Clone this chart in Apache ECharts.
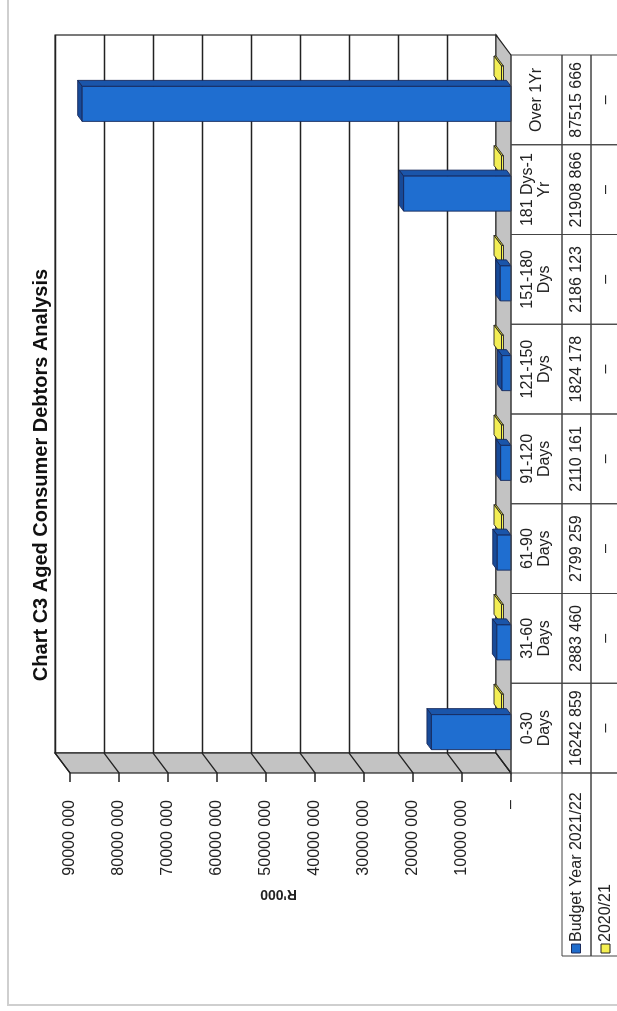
<!DOCTYPE html>
<html>
<head>
<meta charset="utf-8">
<script src="https://cdn.jsdelivr.net/npm/echarts@6/dist/echarts.min.js"></script>
<style>
  html, body { margin: 0; padding: 0; background: #fff; overflow: hidden; }
  #page { position: absolute; left: 0; top: 0; width: 617px; height: 1011px; overflow: hidden; }
  /* 图表整体逆时针旋转 90 度，和扫描件一致 */
  #chart { position: absolute; left: 0; top: 0; width: 1011px; height: 617px;
           transform-origin: 0 0; transform: translate(0, 1011px) rotate(-90deg); }
</style>
</head>
<body>
<div id="page"><div id="chart"></div></div>
<script>
// 数据
var categories = ['0-30\nDays', '31-60\nDays', '61-90\nDays', '91-120\nDays', '121-150\nDys', '151-180\nDys', '181 Dys-1\nYr', 'Over 1Yr'];
var budget = [16242859, 2883460, 2799259, 2110161, 1824178, 2186123, 21908866, 87515666];
var prior = [0, 0, 0, 0, 0, 0, 0, 0];
var seriesNames = ['Budget Year 2021/22', '2020/21'];
var ticks = [0, 10000000, 20000000, 30000000, 40000000, 50000000, 60000000, 70000000, 80000000, 90000000];

// 3D 深度偏移（前 -> 后）
var DEPTH_U = 20;
var DEPTH_V = -15;
var FRONT = { left: 238, right: 55, top: 70, bottom: 106 };
var TABLE_ROWS = [511, 562, 591, 625];
var FONT = 'Liberation Sans, Arial, sans-serif';

function fmt(v) {
  if (!v) return '–';
  var r = String(v % 1000);
  while (r.length < 3) r = '0' + r;
  return Math.floor(v / 1000) + ' ' + r;
}

(function () {
  var myChart = echarts.init(document.getElementById('chart'));

  // 画一个立体柱子
  function box(api, opt) {
    var i = api.value(0), val = api.value(1);
    var base = api.coord([i, 0]);
    var top = api.coord([i, val]);
    var bw = api.size([1, 0])[0];
    var w = bw * opt.width;
    var uL = base[0] - w / 2 + opt.shift, uR = uL + w;
    var vB = base[1], vT = Math.min(top[1], vB - 2);
    function P(u, v, z) { return [u + DEPTH_U * z, v + DEPTH_V * z]; }
    var z1 = opt.z1, z2 = opt.z2;
    var line = { stroke: opt.line, lineWidth: 0.9 };
    return {
      type: 'group',
      children: [
        { type: 'polygon', shape: { points: [P(uR, vT, z1), P(uR, vB, z1), P(uR, vB, z2), P(uR, vT, z2)] },
          style: Object.assign({ fill: opt.side }, line) },
        { type: 'polygon', shape: { points: [P(uL, vT, z1), P(uR, vT, z1), P(uR, vT, z2), P(uL, vT, z2)] },
          style: Object.assign({ fill: opt.top }, line) },
        { type: 'polygon', shape: { points: [P(uL, vT, z1), P(uR, vT, z1), P(uR, vB, z1), P(uL, vB, z1)] },
          style: Object.assign({ fill: opt.front }, line) }
      ]
    };
  }

  var option = {
    animation: false,
    title: {
      text: 'Chart C3 Aged Consumer Debtors Analysis',
      left: 531,
      top: 26,
      textAlign: 'center',
      textStyle: { fontFamily: FONT, fontSize: 20, fontWeight: 'bold', color: '#111' }
    },
    grid: [
      { left: FRONT.left, right: FRONT.right, top: FRONT.top, bottom: FRONT.bottom },
      { left: FRONT.left + DEPTH_U, right: FRONT.right - DEPTH_U, top: FRONT.top + DEPTH_V, bottom: FRONT.bottom - DEPTH_V,
        show: true, backgroundColor: '#fff', borderColor: '#222', borderWidth: 1.2 }
    ],
    xAxis: [
      { type: 'category', gridIndex: 0, data: categories, axisLine: { show: false }, axisTick: { show: false }, axisLabel: { show: false } },
      { type: 'category', gridIndex: 1, data: categories, show: false }
    ],
    yAxis: [
      {
        type: 'value', gridIndex: 0, min: 0, max: 90000000, interval: 10000000,
        name: "R'000", nameLocation: 'middle', nameRotate: 90, nameGap: 72,
        nameTextStyle: { fontFamily: FONT, fontSize: 14, fontWeight: 'bold', color: '#222', padding: [0, 0, 0, 24] },
        axisLine: { show: false }, axisTick: { show: false }, splitLine: { show: false },
        axisLabel: { margin: 27, fontFamily: FONT, fontSize: 16, color: '#222', formatter: fmt }
      },
      {
        type: 'value', gridIndex: 1, min: 0, max: 90000000, interval: 10000000,
        axisLine: { show: false }, axisTick: { show: false }, axisLabel: { show: false },
        splitLine: { lineStyle: { color: '#222', width: 1.3 } }
      }
    ],
    graphic: [
      // 外框
      { type: 'rect', shape: { x: 6, y: 8, width: 1100, height: 700 }, style: { fill: 'none', stroke: '#cfcfcf', lineWidth: 2 } },
      // 图例格子
      { type: 'rect', shape: { x: 55, y: TABLE_ROWS[1], width: FRONT.left - 55, height: TABLE_ROWS[2] - TABLE_ROWS[1] },
        style: { fill: 'none', stroke: '#444', lineWidth: 1 } },
      { type: 'rect', shape: { x: 55, y: TABLE_ROWS[2], width: FRONT.left - 55, height: TABLE_ROWS[3] - TABLE_ROWS[2] },
        style: { fill: 'none', stroke: '#444', lineWidth: 1 } },
      { type: 'rect', shape: { x: 58, y: (TABLE_ROWS[1] + TABLE_ROWS[2]) / 2 - 5, width: 9, height: 9 },
        style: { fill: '#1e6ccc', stroke: '#1a2a5a', lineWidth: 1 } },
      { type: 'text', x: 69, y: (TABLE_ROWS[1] + TABLE_ROWS[2]) / 2,
        style: { text: seriesNames[0], font: '16px ' + FONT, fill: '#222', verticalAlign: 'middle' } },
      { type: 'rect', shape: { x: 58, y: (TABLE_ROWS[2] + TABLE_ROWS[3]) / 2 - 7, width: 9, height: 9 },
        style: { fill: '#f5f050', stroke: '#222', lineWidth: 1 } },
      { type: 'text', x: 69, y: (TABLE_ROWS[2] + TABLE_ROWS[3]) / 2 - 2,
        style: { text: seriesNames[1], font: '16px ' + FONT, fill: '#222', verticalAlign: 'middle' } }
    ],
    series: [
      // 侧墙与底面
      {
        type: 'custom', xAxisIndex: 0, yAxisIndex: 0, data: [[0, 0]], silent: true,
        renderItem: function (params, api) {
          var cs = params.coordSys;
          var x0 = cs.x, x1 = cs.x + cs.width, y0 = cs.y, y1 = cs.y + cs.height;
          var st = { fill: '#c3c3c3', stroke: '#222', lineWidth: 1.2 };
          return {
            type: 'group',
            children: [
              { type: 'polygon', shape: { points: [[x0, y0], [x0 + DEPTH_U, y0 + DEPTH_V], [x0 + DEPTH_U, y1 + DEPTH_V], [x0, y1]] }, style: st },
              { type: 'polygon', shape: { points: [[x0, y1], [x0 + DEPTH_U, y1 + DEPTH_V], [x1 + DEPTH_U, y1 + DEPTH_V], [x1, y1]] }, style: st }
            ]
          };
        }
      },
      // 侧墙网格线和刻度
      {
        type: 'custom', xAxisIndex: 0, yAxisIndex: 0, silent: true,
        data: ticks.map(function (t) { return [0, t]; }),
        renderItem: function (params, api) {
          var cs = params.coordSys;
          var v = api.coord([0, api.value(1)])[1];
          return {
            type: 'polyline',
            shape: { points: [[cs.x + DEPTH_U, v + DEPTH_V], [cs.x, v], [cs.x - 9, v]] },
            style: { stroke: '#222', lineWidth: 1.3, fill: null }
          };
        }
      },
      // 2020/21 (后排)
      {
        name: seriesNames[1], type: 'custom', xAxisIndex: 0, yAxisIndex: 0,
        data: prior.map(function (v, i) { return [i, v]; }),
        renderItem: function (params, api) {
          return box(api, { width: 0.22, shift: 14, z1: 0.5, z2: 1.0, front: '#f5f050', side: '#d8d030', top: '#f3ee55', line: '#222' });
        }
      },
      // Budget Year 2021/22 (前排)
      {
        name: seriesNames[0], type: 'custom', xAxisIndex: 0, yAxisIndex: 0,
        data: budget.map(function (v, i) { return [i, v]; }),
        renderItem: function (params, api) {
          return box(api, { width: 0.39, shift: -4, z1: 0, z2: 0.3, front: '#1f6ed0', side: '#1a55aa', top: '#174a98', line: '#16285a' });
        }
      },
      // 数据表
      {
        type: 'custom', xAxisIndex: 0, yAxisIndex: 0, silent: true,
        data: categories.map(function (c, i) { return [i, 0]; }),
        renderItem: function (params, api) {
          var i = api.value(0);
          var c = api.coord([i, 0])[0];
          var bw = api.size([1, 0])[0];
          var u0 = c - bw / 2;
          var cell = { fill: 'none', stroke: '#444', lineWidth: 1 };
          var txt = { font: '16px ' + FONT, fill: '#222', align: 'center', verticalAlign: 'middle' };
          var kids = [];
          for (var r = 0; r < 3; r++) {
            kids.push({ type: 'rect', shape: { x: u0, y: TABLE_ROWS[r], width: bw, height: TABLE_ROWS[r + 1] - TABLE_ROWS[r] }, style: cell });
          }
          kids.push({ type: 'text', x: c, y: (TABLE_ROWS[0] + TABLE_ROWS[1]) / 2,
            style: Object.assign({ text: categories[i], lineHeight: 17 }, txt) });
          kids.push({ type: 'text', x: c, y: (TABLE_ROWS[1] + TABLE_ROWS[2]) / 2,
            style: Object.assign({ text: fmt(budget[i]) }, txt) });
          kids.push({ type: 'text', x: c, y: (TABLE_ROWS[2] + TABLE_ROWS[3]) / 2 - 2,
            style: Object.assign({ text: fmt(prior[i]) }, txt) });
          return { type: 'group', children: kids };
        }
      }
    ]
  };

  myChart.setOption(option);
})();
</script>
</body>
</html>
